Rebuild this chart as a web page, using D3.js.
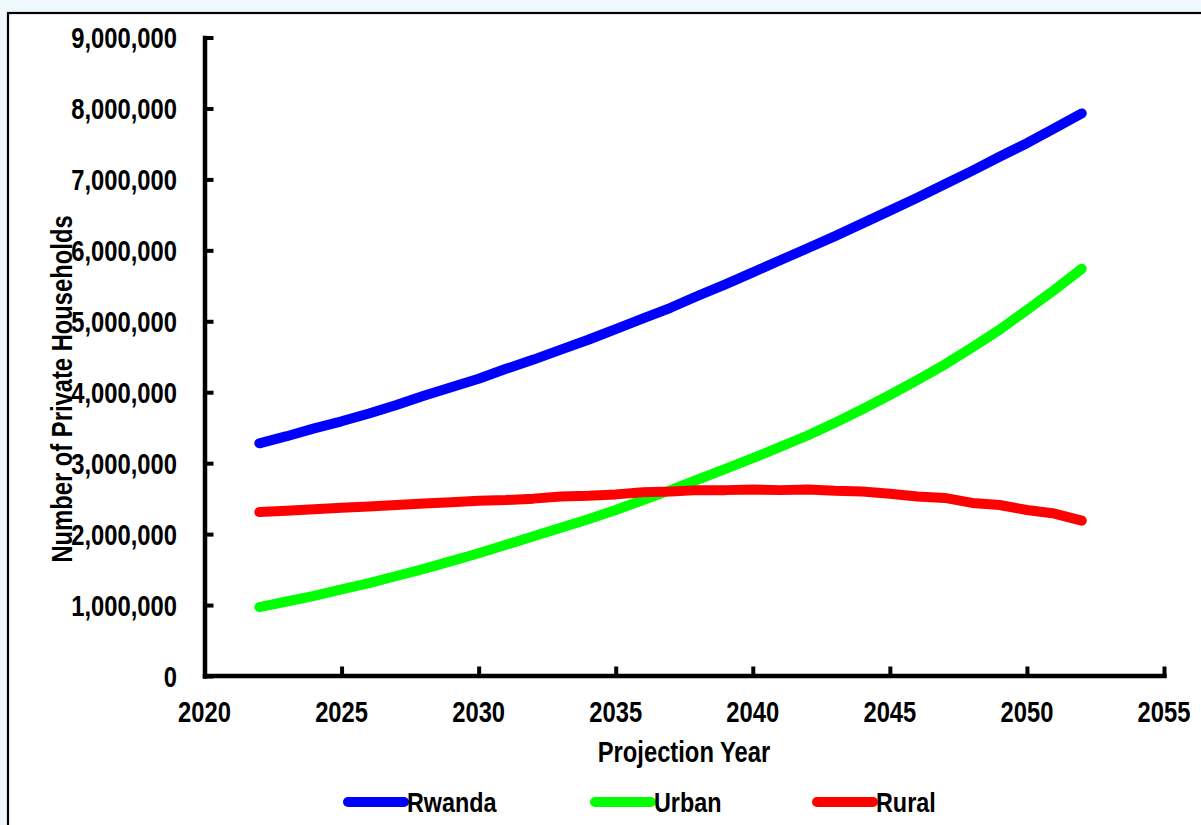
<!DOCTYPE html>
<html><head><meta charset="utf-8">
<script src="https://cdn.jsdelivr.net/npm/d3@7/dist/d3.min.js"></script>
<style>
html,body{margin:0;padding:0;background:#eff8fc;overflow:hidden;}
svg{display:block;}
text{font-family:"Liberation Sans Narrow","Arial Narrow","Liberation Sans",Arial,sans-serif;font-weight:bold;fill:#000;}
</style></head><body>
<svg id="chart" width="1201" height="825"></svg>
<script>
// ---- data ----
const years = [2022,2023,2024,2025,2026,2027,2028,2029,2030,2031,2032,2033,2034,2035,2036,2037,2038,2039,2040,2041,2042,2043,2044,2045,2046,2047,2048,2049,2050,2051,2052];
const rwanda = [3280000,3380000,3490000,3590000,3700000,3820000,3950000,4070000,4190000,4330000,4460000,4600000,4740000,4890000,5040000,5190000,5360000,5520000,5690000,5860000,6030000,6200000,6380000,6560000,6740000,6930000,7120000,7320000,7510000,7720000,7930000];
const urban  = [970000,1050000,1130000,1220000,1310000,1410000,1510000,1620000,1730000,1850000,1970000,2090000,2210000,2340000,2480000,2620000,2770000,2920000,3070000,3230000,3390000,3570000,3760000,3960000,4170000,4390000,4630000,4880000,5160000,5440000,5740000];
const rural  = [2310000,2330000,2350000,2370000,2390000,2410000,2430000,2450000,2470000,2480000,2500000,2530000,2540000,2560000,2590000,2600000,2620000,2620000,2630000,2620000,2630000,2610000,2600000,2570000,2530000,2510000,2440000,2410000,2340000,2290000,2190000];
const seriesNames = ["Rwanda","Urban","Rural"];
const seriesColors = ["#0000ff","#00ff00","#ff0000"];
const xTicks = [2020,2025,2030,2035,2040,2045,2050,2055];
const yTicks = [0,1000000,2000000,3000000,4000000,5000000,6000000,7000000,8000000,9000000];
const xTitle = "Projection Year";
const yTitle = "Number of Private Households";

// ---- layout ----
const svg = d3.select("#chart");
const FS = 29;
const x = d3.scaleLinear().domain([2020,2055]).range([204.5,1164]);
const y = d3.scaleLinear().domain([0,9000000]).range([676,37.5]);

// frame
svg.append("rect").attr("x",8).attr("y",13).attr("width",1400).attr("height",1000)
  .attr("fill","#ffffff").attr("stroke","#000").attr("stroke-width",2.2);

// font compression detection (narrow font may be missing)
const probe = svg.append("text").attr("font-size",FS).text("0000");
const pw = probe.node().getComputedTextLength();
probe.remove();
const target = 4*0.456*FS;
const sx = pw > target*1.04 ? target/pw : 1;

function addText(str, tx, ty, anchor, rot, size){
  const t = svg.append("text")
    .attr("font-size", size||FS)
    .attr("text-anchor", anchor)
    .attr("transform", `translate(${tx},${ty})` + (rot?` rotate(${rot})`:"") + ` scale(${sx},1)`)
    .text(str);
  return t;
}

// axes (lines and ticks)
const fmt = d3.format(",");
const yAxis = d3.axisLeft(y).tickValues(yTicks).tickSizeInner(-9).tickSizeOuter(0).tickFormat("");
const xAxis = d3.axisBottom(x).tickValues(xTicks).tickSizeInner(-9).tickSizeOuter(0).tickFormat("");
const gy = svg.append("g").attr("transform","translate(204.5,0)").call(yAxis);
const gx = svg.append("g").attr("transform","translate(0,675.5)").call(xAxis);
[gy,gx].forEach(g=>{
  g.select(".domain").attr("stroke","#000").attr("stroke-width",4.5).attr("stroke-linecap","square");
  g.selectAll(".tick line").attr("stroke","#000").attr("stroke-width",4);
});

// tick labels
yTicks.forEach(v=> addText(fmt(v), 177, y(v)+10.5, "end"));
xTicks.forEach(v=> addText(String(v), x(v), 722, "middle"));

// titles
addText(xTitle, 684, 762, "middle");
addText(yTitle, 72, 389, "middle", -90);

// lines
const data = [rwanda, urban, rural];
const line = d3.line().x((d,i)=>x(years[i])).y(d=>y(d));
data.forEach((s,k)=>{
  svg.append("path").datum(s).attr("d",line)
    .attr("fill","none").attr("stroke",seriesColors[k]).attr("stroke-width",10)
    .attr("stroke-linecap","round").attr("stroke-linejoin","round");
});

// legend
const legendX = [348, 595, 817];
seriesNames.forEach((n,k)=>{
  svg.append("line").attr("x1",legendX[k]).attr("x2",legendX[k]+56)
    .attr("y1",802).attr("y2",802)
    .attr("stroke",seriesColors[k]).attr("stroke-width",10).attr("stroke-linecap","round");
  addText(n, legendX[k]+59, 812, "start", 0, 28.5);
});
</script>
</body></html>
